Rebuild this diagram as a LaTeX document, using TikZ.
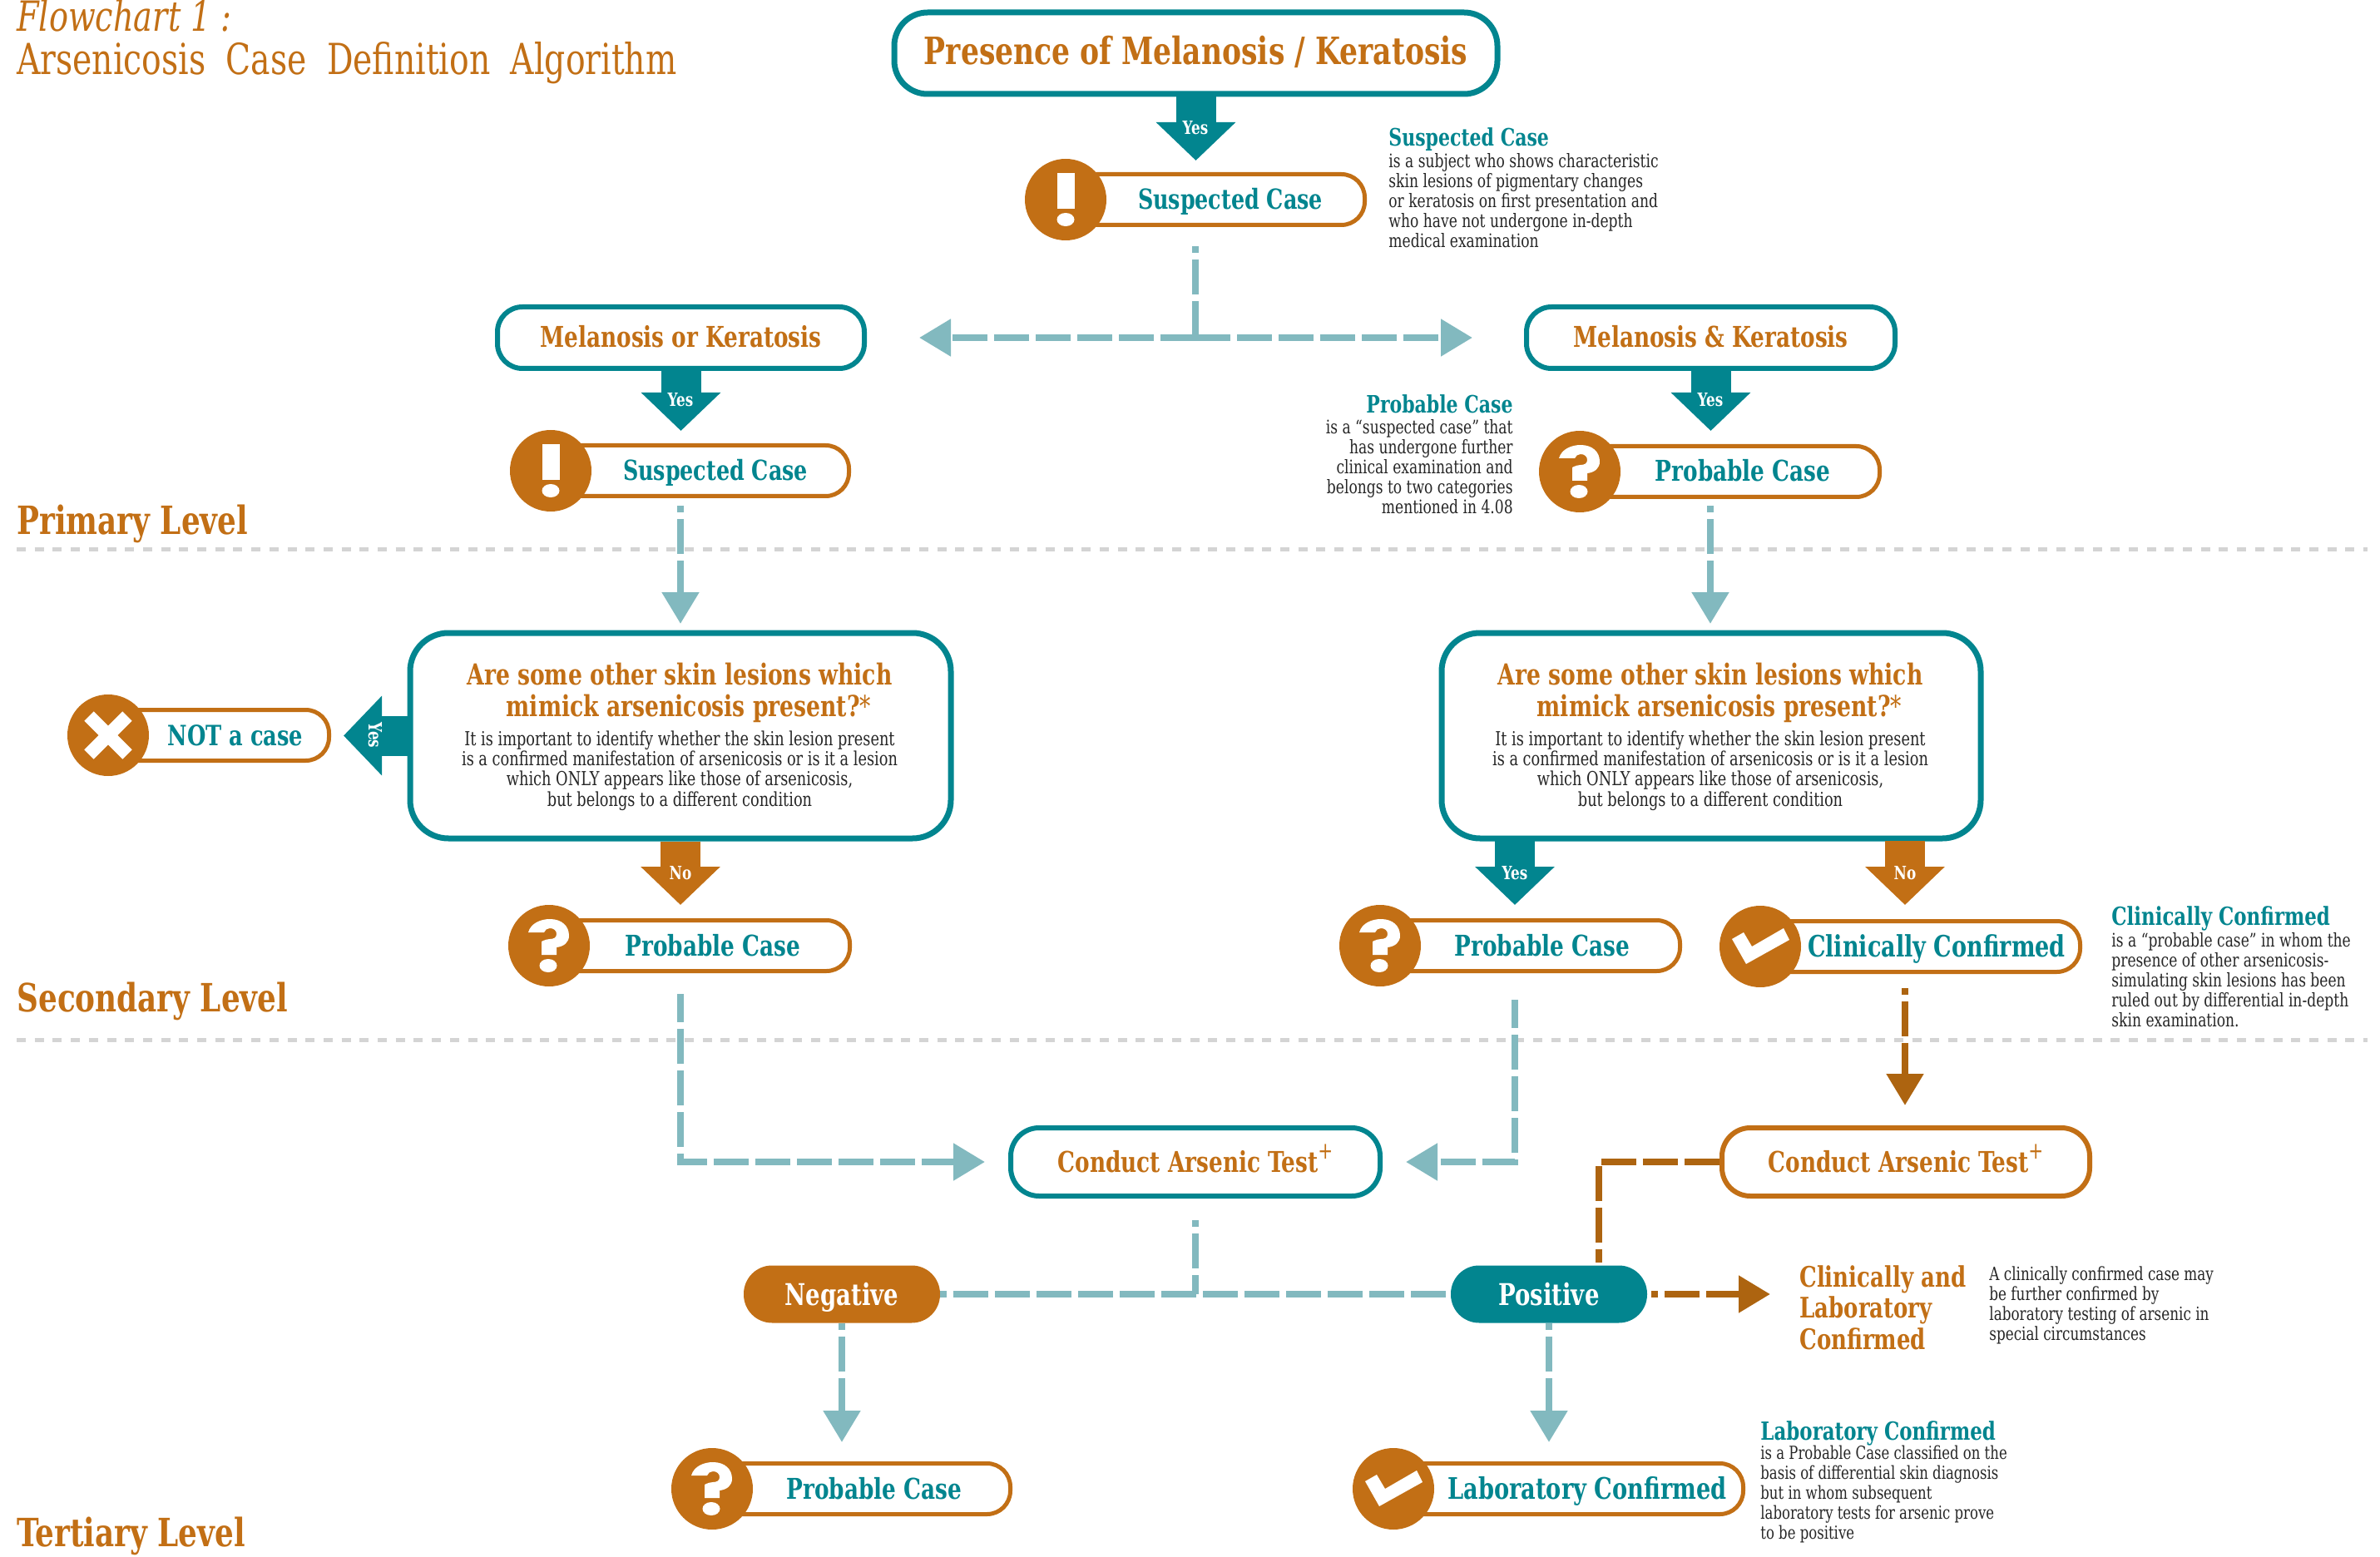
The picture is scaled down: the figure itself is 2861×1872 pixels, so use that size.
\documentclass[tikz,border=0pt]{standalone}
\usepackage{fontspec}
\setmainfont[FakeStretch=0.85]{DejaVu Serif Condensed}
\usetikzlibrary{arrows.meta,calc}
\definecolor{ocre}{HTML}{C26F15}
\definecolor{tealc}{HTML}{02858F}
\definecolor{lteal}{HTML}{82B9BF}
\definecolor{brnc}{HTML}{AD6410}
\definecolor{ink}{HTML}{262626}
\definecolor{dots}{HTML}{D4D4D4}
\tikzset{
  x=0.5pt,y=-0.5pt,
  hd/.style={font=\fontsize{17.2pt}{20pt}\selectfont\bfseries},
  tealbox/.style={draw=tealc,line width=3pt,fill=white,rounded corners=15pt,inner sep=0pt,text=ocre,hd,text height=14pt,text depth=2pt},
  ocrebox/.style={draw=ocre,line width=3pt,fill=white,rounded corners=15pt,inner sep=0pt,text=ocre,hd,text height=14pt,text depth=2pt},
  pillbox/.style={draw=ocre,line width=2.5pt,fill=white,rounded corners=14pt,inner sep=0pt,minimum height=30.5pt},
  pilltext/.style={inner sep=0pt,text=tealc,hd,text height=14pt,text depth=2pt},
  badge/.style={circle,fill=ocre,minimum size=49pt,inner sep=0pt},
  result/.style={rounded corners=17pt,inner sep=0pt,text=white,font=\fontsize{18pt}{21pt}\selectfont\bfseries,text height=13pt,text depth=0pt,minimum height=34.5pt,minimum width=118pt},
  block/.style={line width=24pt},
  tblock/.style={block,draw=tealc,-{Triangle[length=23pt,width=46.5pt]}},
  oblock/.style={block,draw=ocre,-{Triangle[length=23pt,width=46.5pt]}},
  flag/.style={text=white,inner sep=0pt,font=\fontsize{11pt}{13pt}\selectfont\bfseries},
  tdash/.style={draw=lteal,line width=4.2pt,dash pattern=on 21pt off 4pt,dash phase=17pt},
  tarrow/.style={tdash,-{Triangle[length=19pt,width=21.5pt]}},
  bdash/.style={draw=brnc,line width=4.2pt,dash pattern=on 21pt off 4pt,dash phase=17pt},
  barrow/.style={bdash,-{Triangle[length=19pt,width=21.5pt]}},
  levelline/.style={draw=dots,line width=2.5pt,dash pattern=on 5.5pt off 5.35pt},
  level/.style={text=ocre,inner sep=0pt,anchor=base west,font=\fontsize{23.4pt}{27pt}\selectfont\bfseries},
  notehead/.style={text=tealc,inner sep=0pt,font=\fontsize{14.4pt}{17pt}\selectfont\bfseries},
  notebody/.style={text=ink,inner sep=0pt,font=\fontsize{11.2pt}{12pt}\selectfont},
  qhead/.style={text=ocre,inner sep=0pt,anchor=north,align=center,font=\fontsize{17.4pt}{19pt}\selectfont\bfseries},
  qbody/.style={text=ink,inner sep=0pt,anchor=north,align=center,font=\fontsize{11.6pt}{12.2pt}\selectfont},
}
\newcommand{\outlinebox}[7]{\node[#1,minimum width={(#5-#3-6)*0.5pt},minimum height={(#6-#4-6)*0.5pt}] (#2) at ({(#3+#5)/2},{(#4+#6)/2}) {#7};}
\newcommand{\iconexcl}{\fill[white] (-10.5,-32) rectangle (10.5,11); \fill[white] (0,24) ellipse [x radius=5.25pt,y radius=4pt];}
\newcommand{\iconq}{\fill[white] (-25,-16) .. controls (-22,-27) and (-10,-32) .. (1,-32) .. controls (15,-32) and (24,-24) .. (24,-12) .. controls (24,-4) and (18,1) .. (9,2) -- (9,11) -- (-9,11) -- (-9,-5) .. controls (-5,-7) and (-2,-8) .. (1,-8) .. controls (6,-8) and (9,-10) .. (9,-14) .. controls (9,-18) and (6,-21) .. (1,-21) .. controls (-2,-21) and (-5,-19) .. (-6,-16) -- cycle; \fill[white] (-1,24) ellipse [x radius=5.25pt,y radius=4pt];}
\newcommand{\iconx}{\draw[white,line width=8pt] (-23,-23) -- (23,23) (-23,23) -- (23,-23);}
\newcommand{\iconc}{\fill[white] (-34,-9) -- (-20,-17) -- (-10,0) -- (28,-22) -- (35,-8) -- (-17,21) -- cycle;}
\newcommand{\plusmark}{\raisebox{8pt}{\fontsize{14pt}{14pt}\selectfont\mdseries +}}
\newcommand{\casepill}[7]{\node[pillbox,minimum width={(#4-#2)*0.5pt-2.5pt}] (#1) at ({(#2+#4)/2},#3) {};
  \node[badge] (#1b) at (#2,#3) {};
  \begin{scope}[shift={(#2,#3)}] #6 \end{scope}
  \node[pilltext] (#1t) at (#5,#3) {#7};}
\begin{document}
\begin{tikzpicture}
\useasboundingbox (0,0) rectangle (2861,1872);
% title
\node[text=ocre,inner sep=0pt,anchor=base west,font=\fontsize{25pt}{29pt}\selectfont\itshape] (ttl1) at (20,38) {Flowchart 1 :};
\node[text=ocre,inner sep=0pt,anchor=base west,font=\fontsize{25.7pt}{30pt}\selectfont] (ttl2) at (20,90) {Arsenicosis\hspace{6pt} Case\hspace{6pt} Definition\hspace{6pt} Algorithm};
% levels
\node[level] (lv1) at (20,642) {Primary Level};
\node[level] (lv2) at (20,1216) {Secondary Level};
\node[level] (lv3) at (20,1859) {Tertiary Level};
\coordinate (d1a) at (20,660); \coordinate (d1b) at (2846,660);
\coordinate (d2a) at (20,1250); \coordinate (d2b) at (2846,1250);
\draw[levelline] (d1a) -- (d1b);
\draw[levelline] (d2a) -- (d2b);
% boxes
\outlinebox{tealbox,line width=3.5pt,rounded corners=20pt,font=\fontsize{22.6pt}{26pt}\selectfont\bfseries,text height=16pt,text depth=2pt}{top}{1072}{12}{1803}{116}{Presence of Melanosis / Keratosis}
\outlinebox{tealbox}{mel1}{595}{366}{1042}{446}{Melanosis or Keratosis}
\outlinebox{tealbox}{mel2}{1832}{366}{2281}{446}{Melanosis \& Keratosis}
\outlinebox{tealbox,line width=3.5pt,rounded corners=23pt}{q1}{490}{758}{1146}{1011}{}
\outlinebox{tealbox,line width=3.5pt,rounded corners=23pt}{q2}{1730}{758}{2384}{1011}{}
\outlinebox{tealbox,rounded corners=17pt}{test1}{1212}{1353}{1662}{1441}{Conduct Arsenic Test\plusmark}
\outlinebox{ocrebox,rounded corners=17pt}{test2}{2067}{1353}{2515}{1441}{Conduct Arsenic Test\plusmark}
\node[result,fill=ocre] (neg) at (1012,1556) {Negative};
\node[result,fill=tealc] (pos) at (1862,1556) {Positive};
% question text
\node[qhead] (q1h) at (817,797) {Are some other skin lesions which\\\hspace*{11pt}mimick arsenicosis present?{\mdseries*}};
\node[qbody] (q1b) at (817,878) {It is important to identify whether the skin lesion present\\is a confirmed manifestation of arsenicosis or is it a lesion\\which ONLY appears like those of arsenicosis,\\but belongs to a different condition};
\node[qhead] (q2h) at (2056,797) {Are some other skin lesions which\\\hspace*{11pt}mimick arsenicosis present?{\mdseries*}};
\node[qbody] (q2b) at (2056,878) {It is important to identify whether the skin lesion present\\is a confirmed manifestation of arsenicosis or is it a lesion\\which ONLY appears like those of arsenicosis,\\but belongs to a different condition};
% case pills
\casepill{s0}{1281}{240}{1643}{1479}{\iconexcl}{\fontsize{16.6pt}{20pt}\selectfont Suspected Case}
\casepill{s1}{662}{566}{1023}{860}{\iconexcl}{\fontsize{16.6pt}{20pt}\selectfont Suspected Case}
\casepill{p1}{1899}{567}{2262}{2095}{\iconq}{Probable Case}
\casepill{nc}{130}{884}{398}{283}{\iconx}{\fontsize{16.8pt}{20pt}\selectfont NOT a case}
\casepill{p2}{660}{1137}{1024}{857}{\iconq}{Probable Case}
\casepill{p3}{1659}{1137}{2022}{1854}{\iconq}{Probable Case}
\casepill{cc}{2116}{1138}{2503}{2328}{\iconc}{\fontsize{17.7pt}{20pt}\selectfont Clinically Confirmed}
\casepill{p4}{856}{1790}{1217}{1051}{\iconq}{Probable Case}
\casepill{lc}{1675}{1790}{2098}{1908}{\iconc}{\fontsize{17.8pt}{20pt}\selectfont Laboratory Confirmed}
% block arrows
\coordinate (t0) at (1437.5,193);
\coordinate (t1) at (818.5,518);
\coordinate (t2) at (2056.5,518);
\coordinate (t3) at (413,884.5);
\coordinate (t4) at (818,1088);
\coordinate (t5) at (1821,1088);
\coordinate (t6) at (2290,1088);
\coordinate (q2l) at (1821,1011);
\coordinate (q2r) at (2290,1011);
\draw[tblock] (top.south) -- (t0);
\draw[tblock] (mel1.south) -- (t1);
\draw[tblock] (mel2.south) -- (t2);
\draw[tblock] (q1.west) -- (t3);
\draw[oblock] (q1.south) -- (t4);
\draw[tblock] (q2l) -- (t5);
\draw[oblock] (q2r) -- (t6);
\node[flag] (y0) at (1437,154) {Yes};
\node[flag] (y1) at (818,481) {Yes};
\node[flag] (y2) at (2056,481) {Yes};
\node[flag,rotate=-90] (y3) at (451,884) {Yes};
\node[flag] (n1) at (818,1050) {No};
\node[flag] (y4) at (1821,1050) {Yes};
\node[flag] (n2) at (2290,1050) {No};
% dashed connectors
\coordinate (a0) at (1437,296);
\coordinate (jn) at (1437,406);
\draw[tdash] (a0) -- (jn);
\draw[tarrow,dash phase=0pt] (jn) -- (mel1.east |- jn) [shorten >=31.5pt];
\draw[tarrow,dash phase=0pt] (jn) -- (mel2.west |- jn) [shorten >=31pt];
\coordinate (a1) at (818,608);
\coordinate (a1t) at (818,750);
\draw[tarrow] (a1) -- (a1t);
\coordinate (a2) at (2056,608);
\coordinate (a2t) at (2056,750);
\draw[tarrow] (a2) -- (a2t);
\coordinate (a3) at (818,1195);
\draw[tarrow,dash phase=4pt] (a3) |- (test1.west) [shorten >=14pt];
\coordinate (a4) at (1821,1202);
\draw[tarrow,dash phase=4pt] (a4) |- (test1.east) [shorten >=14pt];
\coordinate (a5) at (2290,1188);
\coordinate (a5t) at (2290,1329);
\draw[barrow] (a5) -- (a5t);
\coordinate (a6) at (1437,1467);
\coordinate (a6j) at (1437,1556);
\draw[tdash] (a6) -- (a6j);
\draw[tdash] (neg.east) -- (pos.west);
\coordinate (a7) at (1922,1518);
\draw[bdash,dash phase=0pt] (test2.west) -| (a7);
\coordinate (a8) at (1985,1556);
\coordinate (a8t) at (2128,1556);
\draw[barrow] (a8) -- (a8t);
\coordinate (a9t) at (1862,1734);
\draw[tarrow] (pos.south) -- (a9t);
\coordinate (a10t) at (1012,1734);
\draw[tarrow] (neg.south) -- (a10t);
% notes
\node[notehead,anchor=base west] (n1h) at (1669,176) {Suspected Case};
\node[notebody,anchor=north west,align=left] (n1b) at (1669,184) {is a subject who shows characteristic\\skin lesions of pigmentary changes\\or keratosis on first presentation and\\who have not undergone in-depth\\medical examination};
\node[notehead,anchor=base east] (n2h) at (1819,497) {Probable Case};
\node[notebody,anchor=north east,align=right] (n2b) at (1819,504) {is a “suspected case” that\\has undergone further\\clinical examination and\\belongs to two categories\\mentioned in 4.08};
\node[notehead,anchor=base west,font=\fontsize{15pt}{17pt}\selectfont\bfseries] (n3h) at (2538,1112) {Clinically Confirmed};
\node[notebody,anchor=north west,align=left] (n3b) at (2538,1121) {is a “probable case” in whom the\\presence of other arsenicosis-\\simulating skin lesions has been\\ruled out by differential in-depth\\skin examination.};
\node[text=ocre,inner sep=0pt,anchor=north west,align=left,font=\fontsize{17pt}{18.7pt}\selectfont\bfseries] (n4h) at (2163,1521) {Clinically and\\Laboratory\\Confirmed};
\node[notebody,anchor=north west,align=left,font=\fontsize{11pt}{12pt}\selectfont] (n4b) at (2391,1522) {A clinically confirmed case may\\be further confirmed by\\laboratory testing of arsenic in\\special circumstances};
\node[notehead,anchor=base west,font=\fontsize{15pt}{17pt}\selectfont\bfseries] (n5h) at (2116,1731) {Laboratory Confirmed};
\node[notebody,anchor=north west,align=left,font=\fontsize{10.8pt}{12pt}\selectfont] (n5b) at (2116,1738) {is a Probable Case classified on the\\basis of differential skin diagnosis\\but in whom subsequent\\laboratory tests for arsenic prove\\to be positive};
\end{tikzpicture}
\end{document}
